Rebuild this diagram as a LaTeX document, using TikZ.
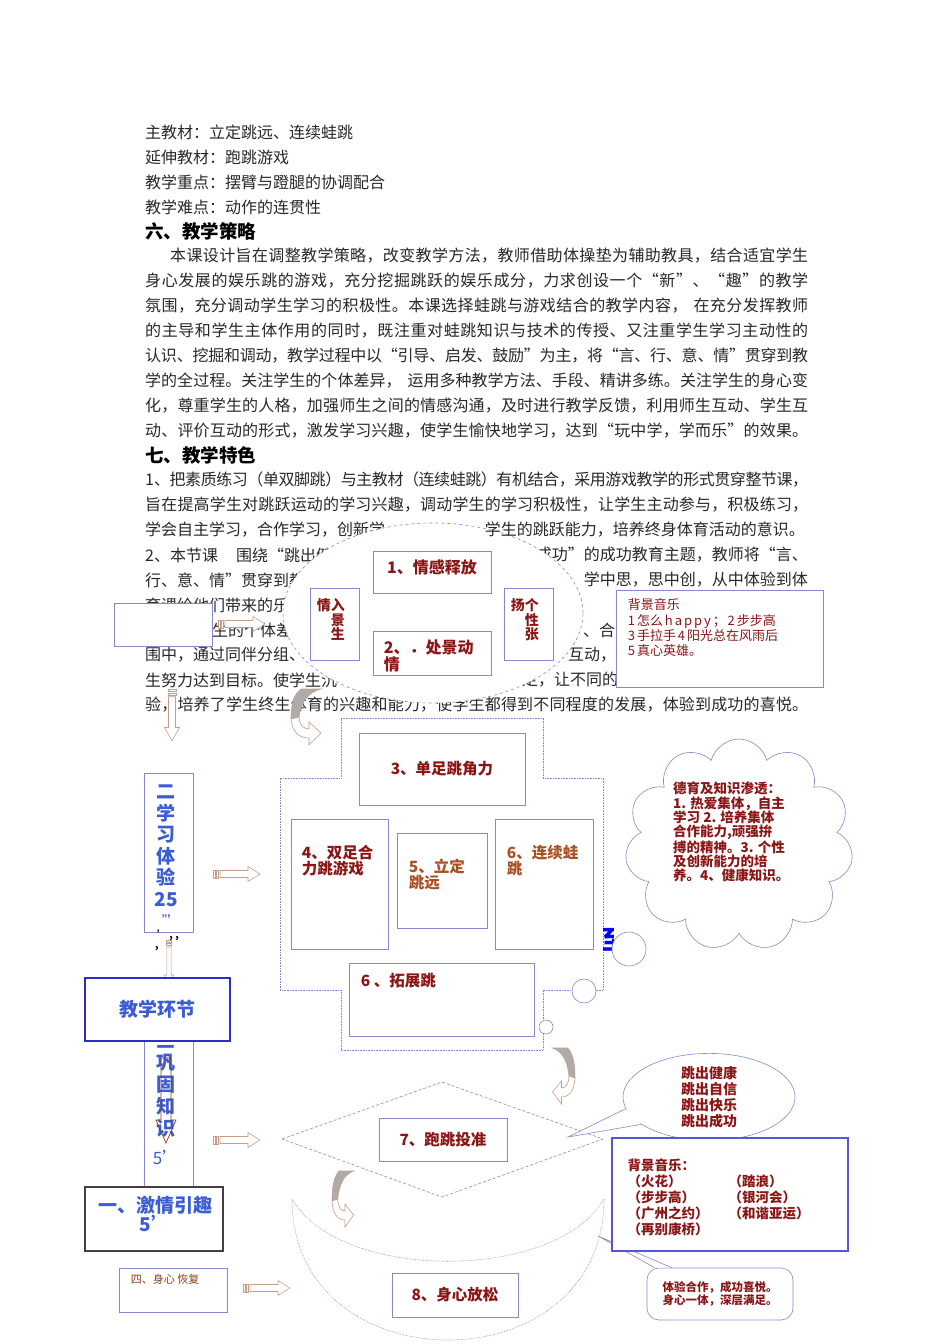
\documentclass[tikz,border=0pt]{standalone}
\usepackage{fontspec}
\setmainfont{Noto Sans CJK SC}
\usepackage{tikz}
\usetikzlibrary{positioning, shapes.symbols, shapes.geometric}
\hbadness=10000
\hfuzz=40pt

% stretchable glue between Chinese characters, for justified lines
\XeTeXinterchartokenstate=1
\newXeTeXintercharclass\hanclass
\count255="3000
\loop \XeTeXcharclass\count255=\hanclass \ifnum\count255<"303F \advance\count255 by 1 \repeat
\count255="4E00
\loop \XeTeXcharclass\count255=\hanclass \ifnum\count255<"9FFF \advance\count255 by 1 \repeat
\count255="FF00
\loop \XeTeXcharclass\count255=\hanclass \ifnum\count255<"FFEF \advance\count255 by 1 \repeat
\XeTeXcharclass"201C=\hanclass
\XeTeXcharclass"201D=\hanclass
\XeTeXinterchartoks\hanclass\hanclass={\hskip0pt plus 1pt minus 0.6pt}

\definecolor{boxblue}{RGB}{135,135,210}
\definecolor{linkblue}{RGB}{45,45,200}
\definecolor{redtxt}{RGB}{140,22,22}
\definecolor{browntxt}{RGB}{168,82,36}
\definecolor{bluetxt}{RGB}{58,92,212}
\definecolor{arrowbrown}{RGB}{200,158,138}
\definecolor{darkbrown}{RGB}{140,62,24}
\definecolor{bodytxt}{RGB}{40,40,40}

\newcommand{\jline}[1]{\makebox[663pt][s]{#1}}

\tikzset{
  body/.style={anchor=west, inner sep=0pt, text=bodytxt, font=\fontsize{16}{18}\selectfont},
  head/.style={anchor=west, inner sep=0pt, text=black, font=\fontsize{18.5}{20}\selectfont\bfseries},
  pbox/.style={draw=boxblue, fill=white, line width=0.7pt, inner sep=0pt},
  redlbl/.style={text=redtxt, inner sep=0pt, align=left, font=\fontsize{15.5}{16.5}\selectfont\bfseries},
  brownlbl/.style={redlbl, text=browntxt},
  bluelbl/.style={text=bluetxt, inner sep=0pt, align=center, font=\fontsize{19}{21.5}\selectfont\bfseries},
  crossline/.style={draw=boxblue, densely dotted, line width=0.6pt},
  arrowline/.style={draw=arrowbrown, fill=white, line width=0.6pt},
  stripearrow/.pic={
    \draw[arrowline] (0,-4) rectangle (2,4);
    \draw[arrowline] (3.5,-4) rectangle (5.5,4);
    \draw[arrowline] (7,-3.5) -- (35,-3.5) -- (35,-7.5) -- (47,0) -- (35,7.5) -- (35,3.5) -- (7,3.5) -- cycle;
  },
  bendarrow/.pic={
    \draw[arrowline, fill=gray!65] (10,0) -- (30,0) .. controls (18,3) and (10,12) .. (8,28) -- (0,30) .. controls (0,15) and (3,5) .. (10,0) -- cycle;
    \draw[arrowline] (0,30) .. controls (1,43) and (8,49) .. (18,49) -- (18,56) -- (30,44) -- (18,33) -- (18,40) .. controls (12,40) and (8,35) .. (8,28) -- cycle;
  },
}

\begin{document}
\begin{tikzpicture}[x=1pt, y=-1pt]
  \useasboundingbox (0,0) rectangle (950,1344);
  \fill[white] (0,0) rectangle (950,1344);

  % body text
  \node[body] (mat1) at (145,132) {主教材：立定跳远、连续蛙跳};
  \node[body] (mat2) at (145,157) {延伸教材：跑跳游戏};
  \node[body] (mat3) at (145,182) {教学重点：摆臂与蹬腿的协调配合};
  \node[body] (mat4) at (145,207) {教学难点：动作的连贯性};
  \node[head] (sec6) at (145,231) {六、教学策略};
  \foreach \t [count=\i] in {
    {\hspace*{25pt}本课设计旨在调整教学策略，改变教学方法，教师借助体操垫为辅助教具，结合适宜学生},
    身心发展的娱乐跳的游戏，充分挖掘跳跃的娱乐成分，力求创设一个“新”、“趣”的教学,
    {氛围，充分调动学生学习的积极性。本课选择蛙跳与游戏结合的教学内容，\hspace*{6pt}在充分发挥教师},
    的主导和学生主体作用的同时，既注重对蛙跳知识与技术的传授、又注重学生学习主动性的,
    认识、挖掘和调动，教学过程中以“引导、启发、鼓励”为主，将“言、行、意、情”贯穿到教,
    {学的全过程。关注学生的个体差异，\hspace*{6pt}运用多种教学方法、手段、精讲多练。关注学生的身心变},
    化，尊重学生的人格，加强师生之间的情感沟通，及时进行教学反馈，利用师生互动、学生互,
    动、评价互动的形式，激发学习兴趣，使学生愉快地学习，达到“玩中学，学而乐”的效果。}
    \node[body] (strat\i) at (145,{231+25*\i}) {\jline{\t}};
  \node[head] (sec7) at (145,455) {七、教学特色};
  \node[body] (feat1) at (145,480) {\jline{1、把素质练习（单双脚跳）与主教材（连续蛙跳）有机结合，采用游戏教学的形式贯穿整节课，}};
  \node[body] (feat2) at (145,505) {\jline{旨在提高学生对跳跃运动的学习兴趣，调动学生的学习积极性，让学生主动参与，积极练习，}};
  \node[body] (feat3a) at (145,530) {学会自主学习，合作学习，创新学};
  \node[body] (feat4a) at (145,555) {2、本节课\hspace*{18pt}围绕“跳出健};
  \node[body, anchor=east] (feat4b) at (808,555) {成功”的成功教育主题，教师将“言、};
  \node[body] (feat5a) at (145,580) {行、意、情”贯穿到教};
  \node[body, anchor=east] (feat5b) at (808,580) {，学中思，思中创，从中体验到体};
  \node[body] (feat6a) at (145,605) {育课给他们带来的乐};
  \node[body] (feat7a) at (212,630) {生的个体差};
  \node[body] (feat7b) at (583,630) {、合};
  \node[body] (feat8a) at (145,655) {围中，通过同伴分组、};
  \node[body] (feat8b) at (568,655) {互动，};
  \node[body] (feat9a) at (145,680) {生努力达到目标。使学生沉};
  \node[body] (feat9b) at (522,680) {定，让不同的};
  \node[body] (feat10) at (145,705) {\jline{验，培养了学生终生体育的兴趣和能力，使学生都得到不同程度的发展，体验到成功的喜悦。}};

  % emotion ellipse
  \draw[boxblue, dashed, fill=white, line width=0.6pt] (433,613) ellipse [x radius=150pt, y radius=90pt];
  \node[body, anchor=east] (feat3b) at (805,530) {学生的跳跃能力，培养终身体育活动的意识。};
  \node[pbox, minimum width=118pt, minimum height=42pt] (release) at (432,572) {};
  \node[redlbl, font=\fontsize{16}{17}\selectfont\bfseries, yshift=5pt] (releasetxt) at (release) {1、情感释放};
  \node[pbox, minimum width=118pt, minimum height=44pt] (scene) at (432,653) {};
  \node[redlbl, font=\fontsize{16}{16.5}\selectfont\bfseries, below right=9pt and 11pt of scene.north west] (scenetxt) {2、．处景动\\情};
  \node[pbox, minimum width=49pt, minimum height=72pt] (enter) at (334.5,624) {};
  \node[redlbl, font=\fontsize{14}{14.5}\selectfont\bfseries, below right=11pt and 7pt of enter.north west] (entertxt) {情入\\\hspace*{1em}景\\\hspace*{1em}生};
  \node[pbox, minimum width=49pt, minimum height=72pt] (express) at (528.5,624) {};
  \node[redlbl, font=\fontsize{14}{14.5}\selectfont\bfseries, below right=11pt and 7pt of express.north west] (expresstxt) {扬个\\\hspace*{1em}性\\\hspace*{1em}张};

  % left entry
  \node[pbox, minimum width=98pt, minimum height=43pt] (blank) at (163,624.5) {};
  \pic at (218,624) {stripearrow};
  \pic[rotate=-90, xscale=1.1] at (172,689) {stripearrow};
  \pic at (291,689) {bendarrow};

  % music box one
  \node[pbox, minimum width=207pt, minimum height=97pt] (music1) at (719.5,638.5) {};
  \node[text=redtxt, inner sep=0pt, align=left, font=\fontsize{13}{15.3}\selectfont\addfontfeatures{LetterSpace=15},
    below right=9pt and 12pt of music1.north west] (music1txt) {背景音乐\\1怎么happy；2步步高\\3手拉手4阳光总在风雨后\\5真心英雄。};

  % practice cross
  \draw[crossline] (341,718) -- (543,718) -- (543,778) -- (603,778) -- (603,990) -- (543,990) -- (543,1050)
    -- (341,1050) -- (341,990) -- (280,990) -- (280,778) -- (341,778) -- cycle;
  \node[pbox, minimum width=166pt, minimum height=72pt] (hop) at (442,769) {};
  \node[redlbl] (hoptxt) at (hop) {3、单足跳角力};
  \node[pbox, minimum width=97pt, minimum height=130pt] (game) at (339.5,884) {};
  \node[redlbl, below right=26pt and 11pt of game.north west] (gametxt) {4、双足合\\力跳游戏};
  \node[pbox, minimum width=90pt, minimum height=95pt] (standing) at (442,880.5) {};
  \node[brownlbl, below right=26pt and 12pt of standing.north west] (standingtxt) {5、立定\\跳远};
  \node[pbox, minimum width=98pt, minimum height=130pt] (frog) at (544,884) {};
  \node[brownlbl, below right=26pt and 12pt of frog.north west] (frogtxt) {6、连续蛙\\跳};
  \node[pbox, minimum width=185pt, minimum height=73pt] (extend) at (441.5,999.5) {};
  \node[redlbl, below right=10pt and 12pt of extend.north west] (extendtxt) {6 、拓展跳};

  % thought cloud
  \node[cloud, cloud puffs=11, aspect=1.05, draw=boxblue, fill=white, line width=0.6pt,
    minimum width=228pt, minimum height=212pt, inner sep=0pt] (moral) at (739,845) {};
  \node[redlbl, font=\fontsize{13.5}{14.2}\selectfont\bfseries, anchor=north west] (moraltxt) at (673,782)
    {德育及知识渗透：\\1. 热爱集体，自主\\学习 2. 培养集体\\合作能力,顽强拚\\搏的精神。3. 个性\\及创新能力的培\\养。4、健康知识。};
  \begin{scope}
    \clip (603,927) rectangle (613,955);
    \node[text=blue, inner sep=0pt, anchor=west, font=\fontsize{26}{26}\selectfont\bfseries] (cutoff) at (601,940) {至};
  \end{scope}
  \draw[boxblue, fill=white, line width=0.6pt] (629,949) circle (17pt);
  \draw[boxblue, fill=white, line width=0.6pt] (584,991) circle (12pt);
  \draw[boxblue, fill=white, line width=0.6pt] (546,1027) circle (7pt);

  % teaching stages column
  \node[pbox, minimum width=49pt, minimum height=159pt] (exper) at (168.5,852.5) {};
  \node[bluelbl] (expertxt) at (166,846) {二\\学\\习\\体\\验\\25};
  \node[text=bluetxt, inner sep=0pt, font=\fontsize{9}{9}\selectfont\bfseries] (expertick) at (166,917) {,,,};
  \node[inner sep=0pt, font=\fontsize{10}{10}\selectfont\bfseries] (tick1) at (168,935) {' , ,};
  \node[inner sep=0pt, font=\fontsize{10}{10}\selectfont\bfseries] (tick2) at (157,949) {,};
  \pic[rotate=-90, yscale=0.6] at (169,940) {stripearrow};
  \node[pbox, minimum width=49pt, minimum height=197pt] (consol) at (168.5,1088.5) {};
  \node[bluelbl, font=\fontsize{19}{22}\selectfont\bfseries] (consoltxt) at (166,1085) {三\\巩\\固\\知\\识};
  \node[text=bluetxt, inner sep=0pt, font=\fontsize{17}{17}\selectfont] (consoltime) at (166,1157) {5'};
  \draw[darkbrown, line width=0.7pt] (161,1058) -- (171,1058) -- (171,1120) -- (176,1120) -- (166,1143)
    -- (156,1120) -- (161,1120) -- cycle;
  \node[draw=linkblue, fill=white, line width=1.4pt, minimum width=145pt, minimum height=63pt, inner sep=0pt] (link) at (157.5,1009.5) {};
  \node[bluelbl] (linktxt) at (link) {教学环节};
  \node[draw=black!75, fill=white, line width=1.4pt, minimum width=138pt, minimum height=64pt, inner sep=0pt] (intro) at (154,1219) {};
  \node[bluelbl, font=\fontsize{19}{18}\selectfont\bfseries] (introtxt) at (155,1214) {一、激情引趣\\5'};
  \node[pbox, minimum width=108pt, minimum height=44pt] (recover) at (173,1290) {};
  \node[text=darkbrown, inner sep=0pt, font=\fontsize{11}{12}\selectfont, below right=6pt and 12pt of recover.north west] (recovertxt) {四、身心 恢复};
  \pic at (213,874) {stripearrow};
  \pic at (213,1140) {stripearrow};
  \pic at (243,1288) {stripearrow};

  % throwing and relaxing
  \pic[xscale=-0.75] at (575,1048) {bendarrow};
  \draw[boxblue, dash pattern=on 3pt off 2pt, line width=0.6pt] (282,1139) -- (442,1082) -- (603,1139) -- (442,1197) -- cycle;
  \node[pbox, minimum width=128pt, minimum height=43pt] (throw) at (443,1139.5) {};
  \node[redlbl] (throwtxt) at (throw) {7、跑跳投准};
  \draw[crossline] (292,1199) .. controls (292,1387) and (604,1387) .. (604,1199)
    .. controls (556,1282) and (340,1282) .. (292,1199) -- cycle;
  \pic[xscale=0.72] at (332,1171) {bendarrow};
  \node[pbox, minimum width=126pt, minimum height=44pt] (relax) at (455,1295) {};
  \node[redlbl] (relaxtxt) at (relax) {8、身心放松};

  % slogan bubble
  \node[ellipse, draw=boxblue, fill=white, line width=0.6pt, minimum width=172pt, minimum height=82pt, inner sep=0pt,
    text=redtxt, align=center, font=\fontsize{14}{16}\selectfont\bfseries] (shout) at (709,1097) {跳出健康\\跳出自信\\跳出快乐\\跳出成功};
  \coordinate (shouttip) at (568,1137);
  \fill[white] (shout.188) -- (shouttip) -- (shout.202) -- cycle;
  \draw[boxblue, line width=0.6pt] (shout.188) -- (shouttip) -- (shout.202);

  % closing callout
  \node[draw=boxblue, fill=white, line width=0.6pt, rounded corners=12pt, minimum width=146pt, minimum height=52pt,
    inner sep=0pt, text=redtxt, align=center, font=\fontsize{11.5}{12.5}\selectfont\bfseries] (joy) at (720,1294)
    {体验合作，成功喜悦。\\身心一体，深层满足。};
  \coordinate (joytip) at (598,1236);
  \fill[white] ([xshift=8pt]joy.north west) -- (joytip) -- ([xshift=25pt]joy.north west) -- cycle;
  \draw[boxblue, line width=0.6pt] ([xshift=8pt]joy.north west) -- (joytip) -- ([xshift=25pt]joy.north west);

  % music box two
  \node[draw=linkblue!80, fill=white, line width=1.3pt, minimum width=236pt, minimum height=113pt, inner sep=0pt] (music2) at (730,1194.5) {};
  \node[redlbl, font=\fontsize{13.5}{16}\selectfont\bfseries, below right=21pt and 16pt of music2.north west] (music2txt)
    {背景音乐：\\\makebox[101pt][l]{（火花）}（踏浪）\\\makebox[101pt][l]{（步步高）}（银河会）\\\makebox[101pt][l]{（广州之约）}（和谐亚运）\\（再别康桥）};
\end{tikzpicture}
\end{document}
